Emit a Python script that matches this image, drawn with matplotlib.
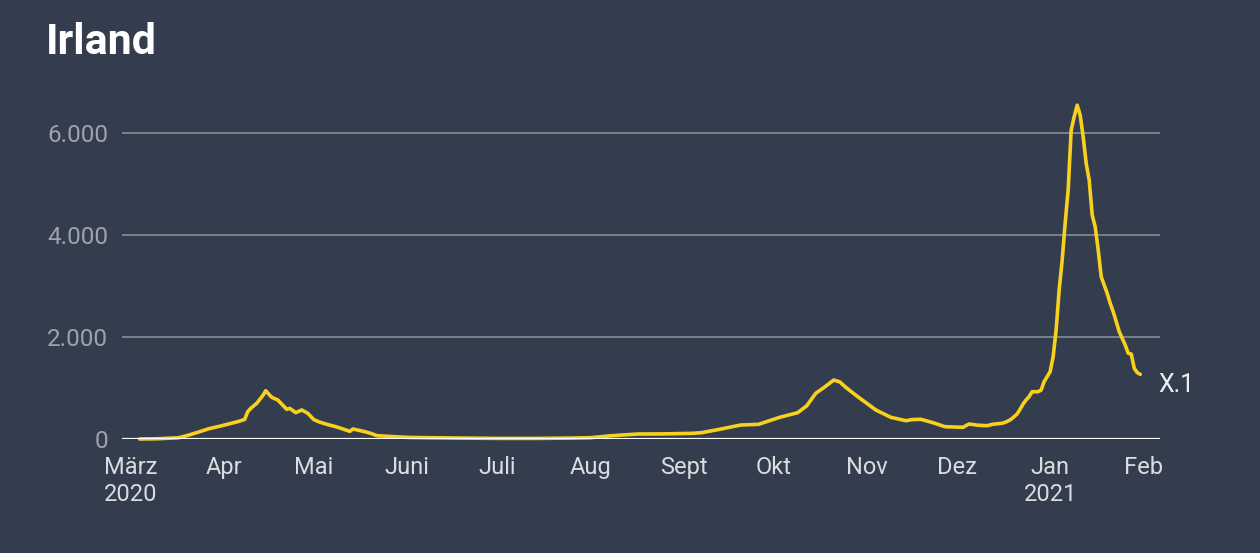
import pandas as pd
import matplotlib
matplotlib.use('Agg')
import matplotlib.pyplot as plt
import matplotlib.dates as mdates

# 7-day average of daily cases
dates = [
    '2020-03-04', '2020-03-10', '2020-03-17', '2020-03-20', '2020-03-24', '2020-03-27',
    '2020-03-31', '2020-04-03', '2020-04-06', '2020-04-08', '2020-04-09', '2020-04-10',
    '2020-04-12', '2020-04-14', '2020-04-15', '2020-04-16', '2020-04-17', '2020-04-19',
    '2020-04-22', '2020-04-23', '2020-04-25', '2020-04-27', '2020-04-29', '2020-05-01',
    '2020-05-03', '2020-05-05', '2020-05-09', '2020-05-13', '2020-05-14', '2020-05-18',
    '2020-05-20', '2020-05-22', '2020-05-28', '2020-06-02', '2020-06-09', '2020-06-20',
    '2020-07-01', '2020-07-15', '2020-07-25', '2020-08-01', '2020-08-07', '2020-08-12',
    '2020-08-17', '2020-08-25', '2020-09-04', '2020-09-07', '2020-09-13', '2020-09-20',
    '2020-09-26', '2020-10-03', '2020-10-09', '2020-10-12', '2020-10-15', '2020-10-18',
    '2020-10-21', '2020-10-23', '2020-10-25', '2020-10-29', '2020-11-01', '2020-11-04',
    '2020-11-09', '2020-11-14', '2020-11-16', '2020-11-19', '2020-11-23', '2020-11-27',
    '2020-12-03', '2020-12-05', '2020-12-08', '2020-12-11', '2020-12-13', '2020-12-16',
    '2020-12-17', '2020-12-18', '2020-12-19', '2020-12-20', '2020-12-21', '2020-12-22',
    '2020-12-23', '2020-12-24', '2020-12-25', '2020-12-26', '2020-12-27', '2020-12-28',
    '2020-12-29', '2020-12-30', '2020-12-31', '2021-01-01', '2021-01-02', '2021-01-03',
    '2021-01-04', '2021-01-05', '2021-01-06', '2021-01-07', '2021-01-08', '2021-01-09',
    '2021-01-10', '2021-01-11', '2021-01-12', '2021-01-13', '2021-01-14', '2021-01-15',
    '2021-01-16', '2021-01-17', '2021-01-18', '2021-01-19', '2021-01-20', '2021-01-21',
    '2021-01-22', '2021-01-23', '2021-01-24', '2021-01-25', '2021-01-26', '2021-01-27',
    '2021-01-28', '2021-01-29', '2021-01-30', '2021-01-31',
]
cases = [
    0, 5, 25, 70, 143, 200,
    255, 300, 345, 385, 535, 600,
    700, 850, 947, 880, 817, 765,
    582, 600, 516, 569, 503, 380,
    330, 294, 229, 150, 196, 143,
    110, 65, 45, 30, 25, 18,
    12, 12, 18, 25, 59, 80,
    98, 100, 111, 124, 190, 274,
    288, 425, 516, 650, 895, 1020,
    1156, 1120, 1013, 829, 700, 569,
    425, 359, 380, 386, 320, 241,
    229, 294, 270, 261, 290, 308,
    327, 353, 386, 437, 490, 582,
    686, 765, 830, 927, 927, 927,
    960, 1124, 1222, 1319, 1613, 2140,
    2920, 3500, 4230, 4880, 6056, 6317,
    6546, 6350, 5925, 5404, 5076, 4390,
    4161, 3704, 3181, 3018, 2855, 2660,
    2495, 2300, 2104, 1973, 1842, 1680,
    1666, 1385, 1300, 1268,
]

tick_dates = ['2020-03-01', '2020-04-01', '2020-05-01', '2020-06-01', '2020-07-01',
              '2020-08-01', '2020-09-01', '2020-10-01', '2020-11-01', '2020-12-01',
              '2021-01-01', '2021-02-01']
tick_labels = ['März\n2020', 'Apr', 'Mai', 'Juni', 'Juli', 'Aug', 'Sept', 'Okt',
               'Nov', 'Dez', 'Jan\n2021', 'Feb']
y_ticks = [0, 2000, 4000, 6000]
y_labels = ['0', '2.000', '4.000', '6.000']

bg = '#343d4d'
plt.rcParams['font.family'] = ['Roboto', 'DejaVu Sans']

df = pd.DataFrame({'date': pd.to_datetime(dates), 'cases': cases})

fig = plt.figure(figsize=(12.6, 5.53), dpi=100, facecolor=bg)
ax = fig.add_axes([122 / 1260, 114 / 553, 1038 / 1260, 357 / 553])
ax.set_facecolor(bg)

ax.plot(df['date'], df['cases'], color='#f7d11e', lw=2.6, zorder=3,
        clip_on=False, solid_capstyle='round', solid_joinstyle='round')
ax.axhline(0, color='white', lw=2.3, zorder=4)

# x range: a few days before March to a week into February
start = mdates.date2num(pd.Timestamp('2020-03-01'))
ax.set_xlim(start - 2.83, start + 342.56)
ax.set_ylim(0, 7000)

ax.set_yticks(y_ticks)
ax.set_yticklabels(y_labels)
ax.grid(axis='y', color='#7c8089', lw=1.4, zorder=1)
ax.set_axisbelow(True)

ax.set_xticks(pd.to_datetime(tick_dates))
ax.set_xticklabels(tick_labels, linespacing=1.25)

for s in ax.spines.values():
    s.set_visible(False)
ax.tick_params(axis='both', length=0)
ax.tick_params(axis='y', pad=10, labelsize=17.5, labelcolor='#9ea3ab')
ax.tick_params(axis='x', pad=12, labelsize=17, labelcolor='#dadcdf')

ax.text(df['date'].iloc[-1] + pd.Timedelta(days=6), 1060, 'X.1',
        color='#eeeeee', fontsize=18, va='center', ha='left')

fig.text(46 / 1260, 1 - 42 / 553, 'Irland', color='white', fontsize=31,
         fontweight='bold', va='center', ha='left')

fig.savefig('out.png', dpi=100, facecolor=bg)
